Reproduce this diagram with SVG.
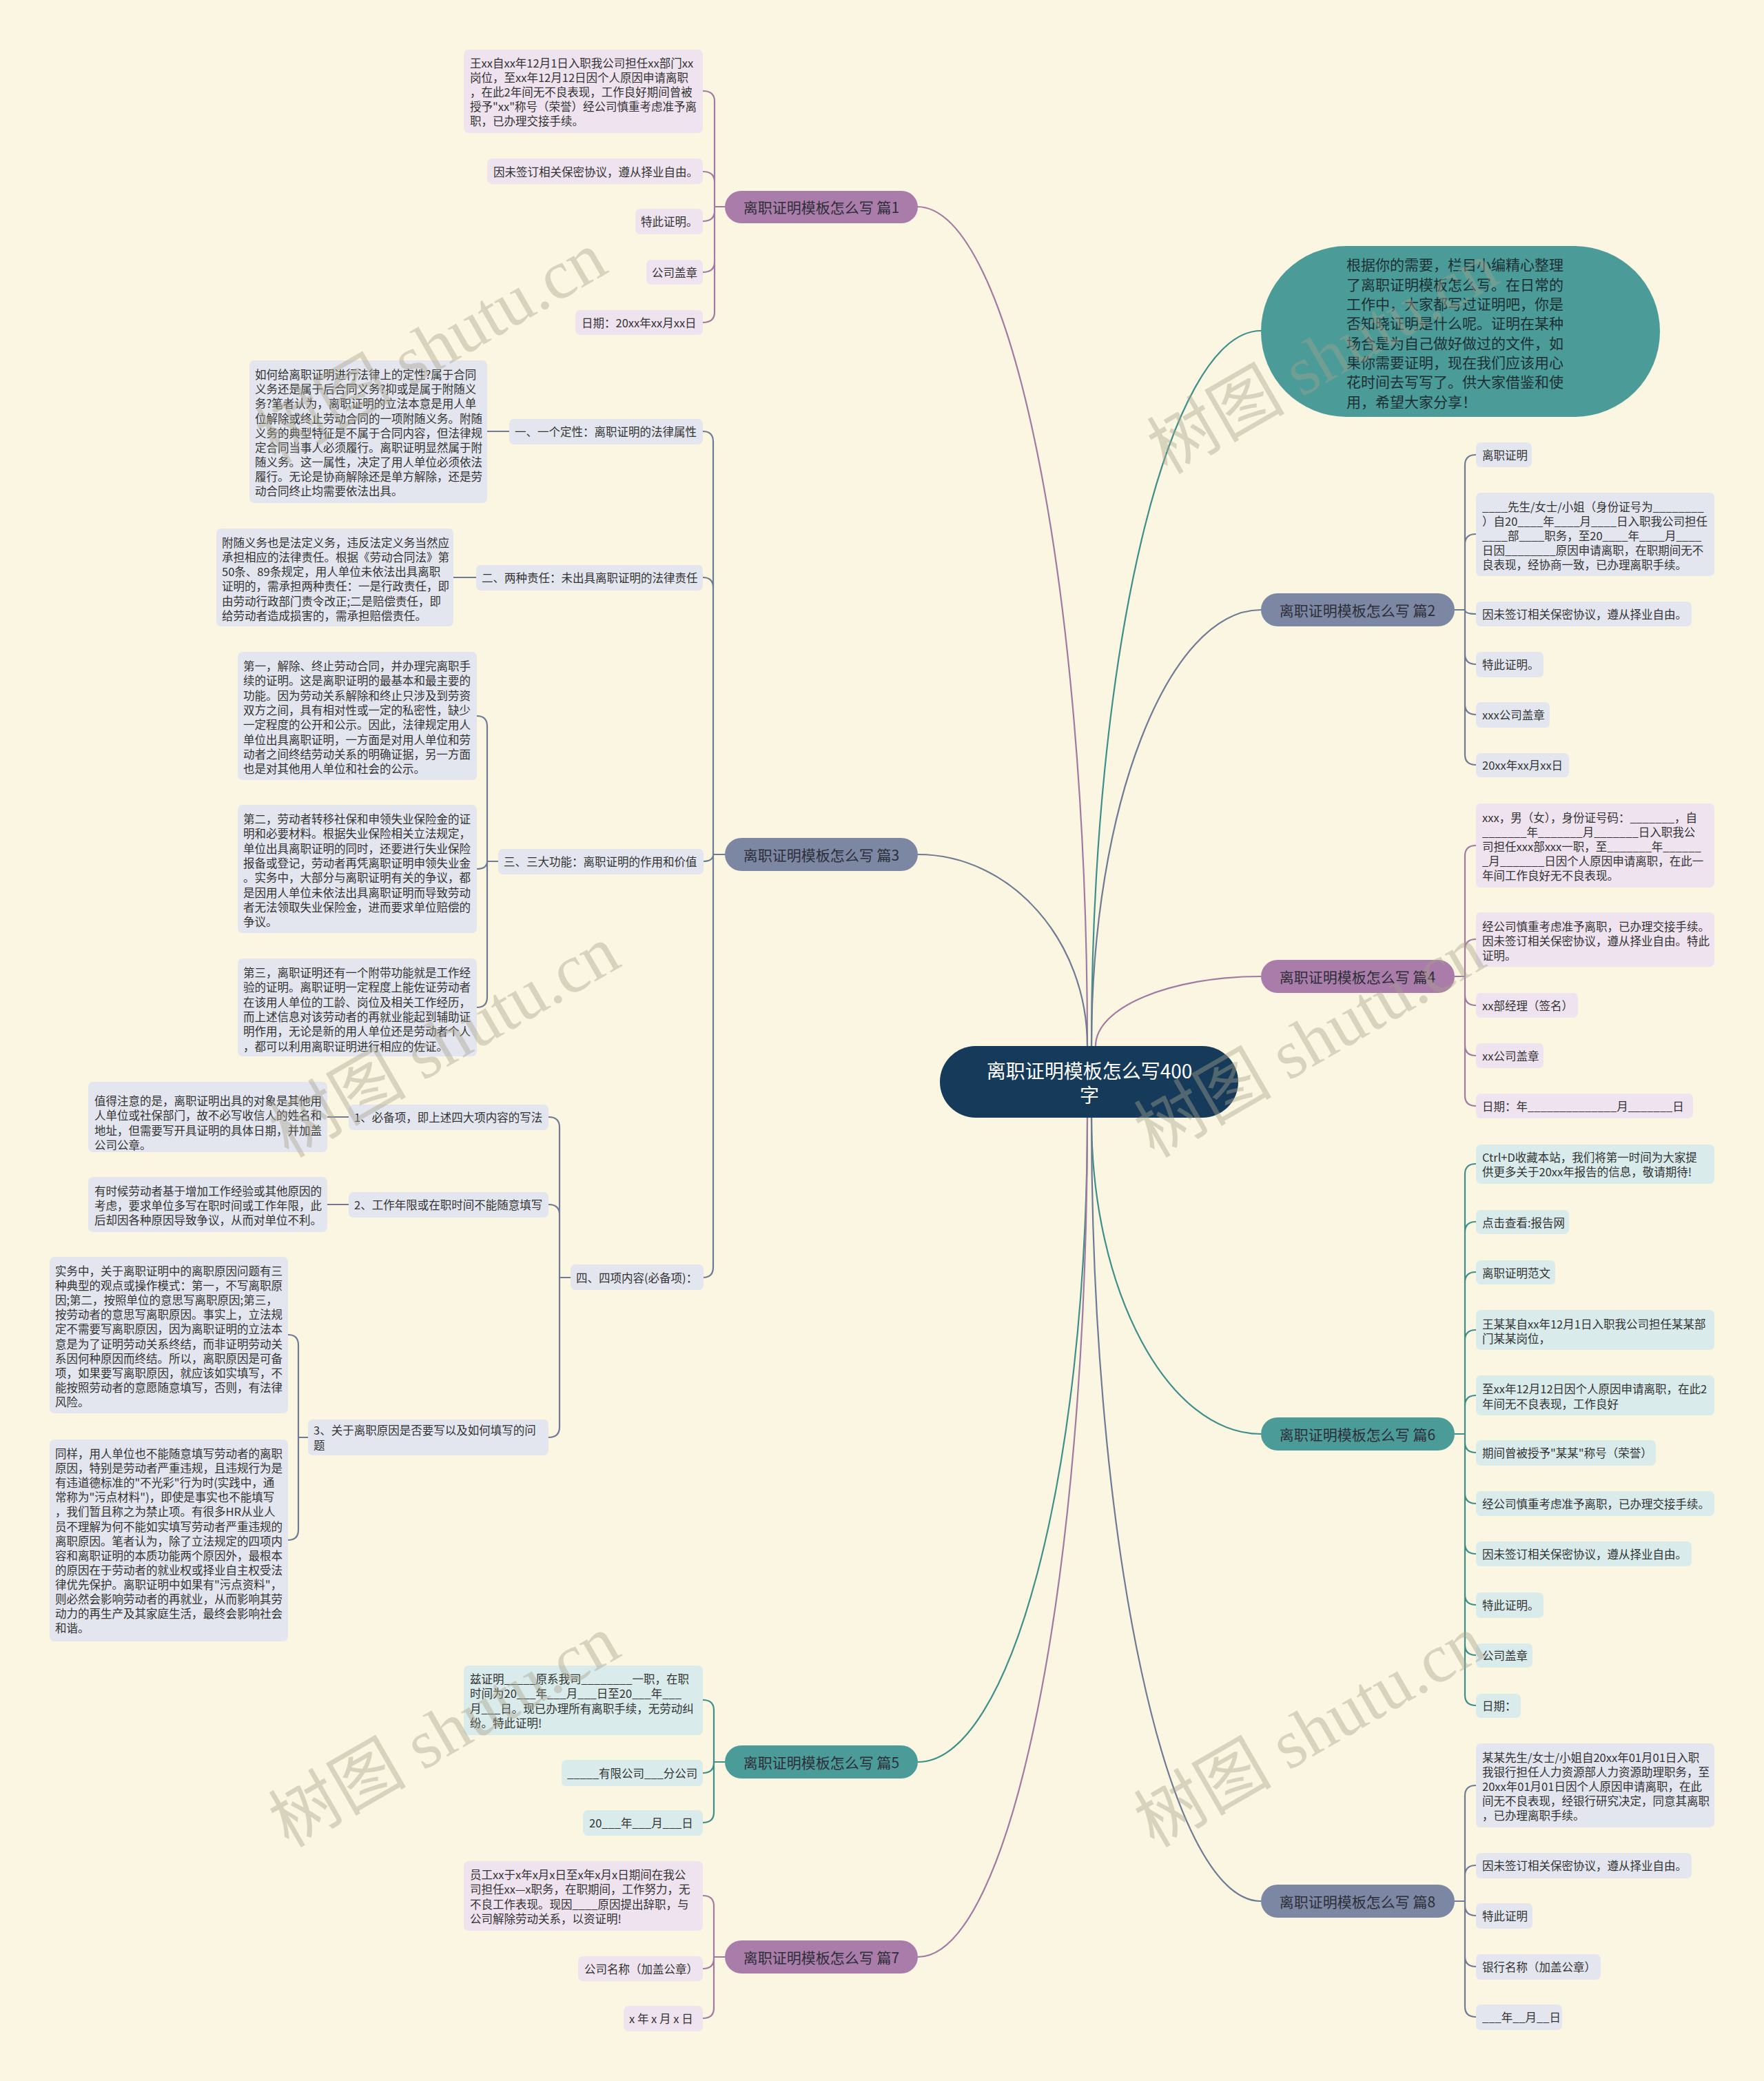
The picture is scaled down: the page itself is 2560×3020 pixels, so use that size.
<svg xmlns="http://www.w3.org/2000/svg" width="2560" height="3020" viewBox="0 0 2560 3020">
<style>
.cp{fill:none;stroke:#a07aa3;stroke-width:2.2}
.cs{fill:none;stroke:#6f7b95;stroke-width:2.2}
.ct{fill:none;stroke:#3e8f8b;stroke-width:2.2}
.lp{fill:#eee3ef}
.ls{fill:#e3e6ee}
.lt{fill:#d9ebea}
.bp{fill:#a97ca9}
.bs{fill:#7b87a3}
.bt{fill:#4b9b98}
.t{font-family:"Noto Sans CJK SC","Noto Sans",sans-serif;font-size:16.5px;fill:#333;dominant-baseline:central}
.b{font-family:"Noto Sans CJK SC","Noto Sans",sans-serif;font-size:21px;fill:#2e2e38;dominant-baseline:central;text-anchor:middle}
.wm{font-family:"Liberation Serif","Noto Sans CJK SC",serif;font-size:100px;fill:#a8a28c;fill-opacity:0.42;text-anchor:middle;dominant-baseline:central}
</style>
<rect x="0" y="0" width="2560" height="3020" fill="#fbf6e1"/>

<g id="connectors">
  <path class="cp" d="M1578 1518C1578 848 1467 300 1331 300"/>
  <path class="cs" d="M1578 1518C1578 1365 1467 1240 1332 1240"/>
  <path class="ct" d="M1578 1622C1578 2136 1467 2557 1332 2557"/>
  <path class="cp" d="M1578 1622C1578 2292 1467 2840 1332 2840"/>
  <path class="ct" d="M1584 1518C1584 947 1695 480 1830 480"/>
  <path class="cs" d="M1584 1518C1584 1170 1695 885 1830 885"/>
  <path class="cp" d="M1590 1518C1590 1462 1698 1417 1830 1417"/>
  <path class="ct" d="M1584 1622C1584 1874 1695 2081 1830 2081"/>
  <path class="cs" d="M1584 1622C1584 2247 1695 2759 1830 2759"/>

  <path class="cp" d="M1052 300H1037M1037 300V147Q1037 132 1020 132M1037 300V264Q1037 249 1020 249M1037 300V306Q1037 321 1020 321M1037 300V380Q1037 395 1020 395M1037 300V453Q1037 468 1020 468"/>

  <path class="cs" d="M1052 1240H1035M1035 1240V641Q1035 626 1020 626M1035 1240V853Q1035 838 1020 838M1035 1240Q1035 1250 1020 1250M1035 1240V1839Q1035 1854 1020 1854"/>
  <path class="cs" d="M707 626H739M658 838H691"/>
  <path class="cs" d="M723 1250H707M707 1250V1054Q707 1039 692 1039M707 1250Q707 1261 692 1261M707 1250V1447Q707 1462 692 1462"/>
  <path class="cs" d="M828 1854H812M812 1854V1636Q812 1621 796 1621M812 1854V1763Q812 1748 796 1748M812 1854V2071Q812 2086 796 2086"/>
  <path class="cs" d="M475 1621H506M475 1748H506"/>
  <path class="cs" d="M447 2086H433M433 2086V1952Q433 1937 418 1937M433 2086V2220Q433 2235 418 2235"/>

  <path class="ct" d="M1052 2557H1036M1036 2557V2482Q1036 2467 1020 2467M1036 2557V2558Q1036 2573 1020 2573M1036 2557V2630Q1036 2645 1020 2645"/>
  <path class="cp" d="M1052 2840H1036M1036 2840V2766Q1036 2751 1020 2751M1036 2840V2842Q1036 2857 1020 2857M1036 2840V2914Q1036 2929 1020 2929"/>

  <path class="cs" d="M2111 885H2126M2126 885V675Q2126 660 2142 660M2126 885V790Q2126 775 2142 775M2126 885Q2126 891 2142 891M2126 885V949Q2126 964 2142 964M2126 885V1022Q2126 1037 2142 1037M2126 885V1095Q2126 1110 2142 1110"/>
  <path class="cp" d="M2111 1417H2126M2126 1417V1242Q2126 1227 2142 1227M2126 1417V1378Q2126 1363 2142 1363M2126 1417V1444Q2126 1459 2142 1459M2126 1417V1517Q2126 1532 2142 1532M2126 1417V1590Q2126 1605 2142 1605"/>
  <path class="ct" d="M2111 2081H2126M2126 2081V1704Q2126 1689 2142 1689M2126 2081V1788Q2126 1773 2142 1773M2126 2081V1861Q2126 1846 2142 1846M2126 2081V1945Q2126 1930 2142 1930M2126 2081V2040Q2126 2025 2142 2025M2126 2081V2093Q2126 2108 2142 2108M2126 2081V2167Q2126 2182 2142 2182M2126 2081V2240Q2126 2255 2142 2255M2126 2081V2314Q2126 2329 2142 2329M2126 2081V2387Q2126 2402 2142 2402M2126 2081V2460Q2126 2475 2142 2475"/>
  <path class="cs" d="M2111 2759H2126M2126 2759V2606Q2126 2591 2142 2591M2126 2759V2722Q2126 2707 2142 2707M2126 2759V2765Q2126 2780 2142 2780M2126 2759V2839Q2126 2854 2142 2854M2126 2759V2912Q2126 2927 2142 2927"/>
</g>

<g id="center">
  <rect x="1364" y="1518" width="433" height="104" rx="52" fill="#163b5a"/>
  <text font-family="Noto Sans CJK SC, sans-serif" font-size="28" fill="#ffffff" text-anchor="middle" dominant-baseline="central"><tspan x="1581" y="1553">离职证明模板怎么写400</tspan><tspan x="1581" y="1588">字</tspan></text>
</g>

<g id="intro">
  <rect x="1830" y="357" width="579" height="248" rx="124" fill="#4b9b98"/>
  <text font-family="Noto Sans CJK SC, sans-serif" font-size="21" fill="#1e2f33" dominant-baseline="central">
    <tspan x="1954" y="383">根据你的需要，栏目小编精心整理</tspan>
    <tspan x="1954" y="412">了离职证明模板怎么写。在日常的</tspan>
    <tspan x="1954" y="440">工作中，大家都写过证明吧，你是</tspan>
    <tspan x="1954" y="468">否知晓证明是什么呢。证明在某种</tspan>
    <tspan x="1954" y="497">场合是为自己做好做过的文件，如</tspan>
    <tspan x="1954" y="525">果你需要证明，现在我们应该用心</tspan>
    <tspan x="1954" y="553">花时间去写写了。供大家借鉴和使</tspan>
    <tspan x="1954" y="582">用，希望大家分享！</tspan>
  </text>
</g>

<g id="b1"><rect class="bp" x="1052" y="277" width="280" height="47" rx="23.5"/><text class="b" x="1192" y="300">离职证明模板怎么写 篇1</text></g>
<g id="b3"><rect class="bs" x="1052" y="1216" width="280" height="48" rx="24"/><text class="b" x="1192" y="1240">离职证明模板怎么写 篇3</text></g>
<g id="b5"><rect class="bt" x="1052" y="2533" width="280" height="48" rx="24"/><text class="b" x="1192" y="2557">离职证明模板怎么写 篇5</text></g>
<g id="b7"><rect class="bp" x="1052" y="2816" width="280" height="48" rx="24"/><text class="b" x="1192" y="2840">离职证明模板怎么写 篇7</text></g>
<g id="b2"><rect class="bs" x="1830" y="861" width="281" height="48" rx="24"/><text class="b" x="1970" y="885">离职证明模板怎么写 篇2</text></g>
<g id="b4"><rect class="bp" x="1830" y="1393" width="281" height="48" rx="24"/><text class="b" x="1970" y="1417">离职证明模板怎么写 篇4</text></g>
<g id="b6"><rect class="bt" x="1830" y="2057" width="281" height="48" rx="24"/><text class="b" x="1970" y="2081">离职证明模板怎么写 篇6</text></g>
<g id="b8"><rect class="bs" x="1830" y="2735" width="281" height="48" rx="24"/><text class="b" x="1970" y="2759">离职证明模板怎么写 篇8</text></g>

<g id="l1a"><rect class="lp" x="673" y="72" width="347" height="121" rx="7"/><text class="t"><tspan x="682" y="91">王xx自xx年12月1日入职我公司担任xx部门xx</tspan><tspan x="682" y="112">岗位，至xx年12月12日因个人原因申请离职</tspan><tspan x="682" y="133">，在此2年间无不良表现，工作良好期间曾被</tspan><tspan x="682" y="154">授予"xx"称号（荣誉）经公司慎重考虑准予离</tspan><tspan x="682" y="175">职，已办理交接手续。</tspan></text></g>
<g id="l1b"><rect class="lp" x="707" y="230" width="313" height="37" rx="7"/><text class="t" x="716" y="249">因未签订相关保密协议，遵从择业自由。</text></g>
<g id="l1c"><rect class="lp" x="922" y="303" width="98" height="37" rx="7"/><text class="t" x="930" y="321">特此证明。</text></g>
<g id="l1d"><rect class="lp" x="938" y="377" width="82" height="36" rx="7"/><text class="t" x="946" y="395">公司盖章</text></g>
<g id="l1e"><rect class="lp" x="835" y="450" width="185" height="36" rx="7"/><text class="t" x="844" y="468">日期：20xx年xx月xx日</text></g>

<g id="s1"><rect class="ls" x="739" y="608" width="281" height="37" rx="7"/><text class="t" x="747" y="626">一、一个定性：离职证明的法律属性</text></g>
<g id="s1l"><rect class="ls" x="362" y="523" width="345" height="207" rx="7"/><text class="t"><tspan x="370" y="543">如何给离职证明进行法律上的定性?属于合同</tspan><tspan x="370" y="564">义务还是属于后合同义务?抑或是属于附随义</tspan><tspan x="370" y="585">务?笔者认为，离职证明的立法本意是用人单</tspan><tspan x="370" y="607">位解除或终止劳动合同的一项附随义务。附随</tspan><tspan x="370" y="628">义务的典型特征是不属于合同内容，但法律规</tspan><tspan x="370" y="649">定合同当事人必须履行。离职证明显然属于附</tspan><tspan x="370" y="670">随义务。这一属性，决定了用人单位必须依法</tspan><tspan x="370" y="691">履行。无论是协商解除还是单方解除，还是劳</tspan><tspan x="370" y="712">动合同终止均需要依法出具。</tspan></text></g>
<g id="s2"><rect class="ls" x="691" y="820" width="329" height="37" rx="7"/><text class="t" x="699" y="838">二、两种责任：未出具离职证明的法律责任</text></g>
<g id="s2l"><rect class="ls" x="314" y="767" width="344" height="142" rx="7"/><text class="t"><tspan x="322" y="787">附随义务也是法定义务，违反法定义务当然应</tspan><tspan x="322" y="808">承担相应的法律责任。根据《劳动合同法》第</tspan><tspan x="322" y="829">50条、89条规定，用人单位未依法出具离职</tspan><tspan x="322" y="850">证明的，需承担两种责任：一是行政责任，即</tspan><tspan x="322" y="872">由劳动行政部门责令改正;二是赔偿责任，即</tspan><tspan x="322" y="893">给劳动者造成损害的，需承担赔偿责任。</tspan></text></g>
<g id="s3"><rect class="ls" x="723" y="1232" width="298" height="37" rx="7"/><text class="t" x="731" y="1250">三、三大功能：离职证明的作用和价值</text></g>
<g id="s3a"><rect class="ls" x="345" y="946" width="347" height="186" rx="7"/><text class="t"><tspan x="353" y="966">第一，解除、终止劳动合同，并办理完离职手</tspan><tspan x="353" y="987">续的证明。这是离职证明的最基本和最主要的</tspan><tspan x="353" y="1009">功能。因为劳动关系解除和终止只涉及到劳资</tspan><tspan x="353" y="1030">双方之间，具有相对性或一定的私密性，缺少</tspan><tspan x="353" y="1051">一定程度的公开和公示。因此，法律规定用人</tspan><tspan x="353" y="1073">单位出具离职证明，一方面是对用人单位和劳</tspan><tspan x="353" y="1094">动者之间终结劳动关系的明确证据，另一方面</tspan><tspan x="353" y="1115">也是对其他用人单位和社会的公示。</tspan></text></g>
<g id="s3b"><rect class="ls" x="345" y="1168" width="347" height="186" rx="7"/><text class="t"><tspan x="353" y="1188">第二，劳动者转移社保和申领失业保险金的证</tspan><tspan x="353" y="1209">明和必要材料。根据失业保险相关立法规定，</tspan><tspan x="353" y="1231">单位出具离职证明的同时，还要进行失业保险</tspan><tspan x="353" y="1252">报备或登记，劳动者再凭离职证明申领失业金</tspan><tspan x="353" y="1273">。实务中，大部分与离职证明有关的争议，都</tspan><tspan x="353" y="1295">是因用人单位未依法出具离职证明而导致劳动</tspan><tspan x="353" y="1316">者无法领取失业保险金，进而要求单位赔偿的</tspan><tspan x="353" y="1337">争议。</tspan></text></g>
<g id="s3c"><rect class="ls" x="345" y="1391" width="347" height="142" rx="7"/><text class="t"><tspan x="353" y="1411">第三，离职证明还有一个附带功能就是工作经</tspan><tspan x="353" y="1432">验的证明。离职证明一定程度上能佐证劳动者</tspan><tspan x="353" y="1454">在该用人单位的工龄、岗位及相关工作经历，</tspan><tspan x="353" y="1475">而上述信息对该劳动者的再就业能起到辅助证</tspan><tspan x="353" y="1496">明作用，无论是新的用人单位还是劳动者个人</tspan><tspan x="353" y="1518">，都可以利用离职证明进行相应的佐证。</tspan></text></g>
<g id="s4"><rect class="ls" x="828" y="1835" width="193" height="37" rx="7"/><text class="t" x="836" y="1854">四、四项内容(必备项)：</text></g>
<g id="s41"><rect class="ls" x="506" y="1603" width="290" height="37" rx="7"/><text class="t" x="514" y="1621">1、必备项，即上述四大项内容的写法</text></g>
<g id="s41l"><rect class="ls" x="128" y="1570" width="347" height="102" rx="7"/><text class="t"><tspan x="137" y="1597">值得注意的是，离职证明出具的对象是其他用</tspan><tspan x="137" y="1618">人单位或社保部门，故不必写收信人的姓名和</tspan><tspan x="137" y="1640">地址，但需要写开具证明的具体日期，并加盖</tspan><tspan x="137" y="1661">公司公章。</tspan></text></g>
<g id="s42"><rect class="ls" x="506" y="1730" width="290" height="37" rx="7"/><text class="t" x="514" y="1748">2、工作年限或在职时间不能随意填写</text></g>
<g id="s42l"><rect class="ls" x="128" y="1708" width="347" height="80" rx="7"/><text class="t"><tspan x="137" y="1728">有时候劳动者基于增加工作经验或其他原因的</tspan><tspan x="137" y="1749">考虑，要求单位多写在职时间或工作年限，此</tspan><tspan x="137" y="1770">后却因各种原因导致争议，从而对单位不利。</tspan></text></g>
<g id="s43"><rect class="ls" x="447" y="2060" width="349" height="52" rx="7"/><text class="t"><tspan x="455" y="2075">3、关于离职原因是否要写以及如何填写的问</tspan><tspan x="455" y="2097">题</tspan></text></g>
<g id="s43a"><rect class="ls" x="72" y="1824" width="346" height="227" rx="7"/><text class="t"><tspan x="80" y="1844">实务中，关于离职证明中的离职原因问题有三</tspan><tspan x="80" y="1865">种典型的观点或操作模式：第一，不写离职原</tspan><tspan x="80" y="1886">因;第二，按照单位的意思写离职原因;第三，</tspan><tspan x="80" y="1907">按劳动者的意思写离职原因。事实上，立法规</tspan><tspan x="80" y="1928">定不需要写离职原因，因为离职证明的立法本</tspan><tspan x="80" y="1950">意是为了证明劳动关系终结，而非证明劳动关</tspan><tspan x="80" y="1971">系因何种原因而终结。所以，离职原因是可备</tspan><tspan x="80" y="1992">项，如果要写离职原因，就应该如实填写，不</tspan><tspan x="80" y="2013">能按照劳动者的意愿随意填写，否则，有法律</tspan><tspan x="80" y="2034">风险。</tspan></text></g>
<g id="s43b"><rect class="ls" x="72" y="2089" width="346" height="293" rx="7"/><text class="t"><tspan x="80" y="2109">同样，用人单位也不能随意填写劳动者的离职</tspan><tspan x="80" y="2130">原因，特别是劳动者严重违规，且违规行为是</tspan><tspan x="80" y="2151">有违道德标准的"不光彩"行为时(实践中，通</tspan><tspan x="80" y="2172">常称为"污点材料")，即使是事实也不能填写</tspan><tspan x="80" y="2193">，我们暂且称之为禁止项。有很多HR从业人</tspan><tspan x="80" y="2215">员不理解为何不能如实填写劳动者严重违规的</tspan><tspan x="80" y="2236">离职原因。笔者认为，除了立法规定的四项内</tspan><tspan x="80" y="2257">容和离职证明的本质功能两个原因外，最根本</tspan><tspan x="80" y="2278">的原因在于劳动者的就业权或择业自主权受法</tspan><tspan x="80" y="2299">律优先保护。离职证明中如果有"污点资料"，</tspan><tspan x="80" y="2320">则必然会影响劳动者的再就业，从而影响其劳</tspan><tspan x="80" y="2341">动力的再生产及其家庭生活，最终会影响社会</tspan><tspan x="80" y="2362">和谐。</tspan></text></g>

<g id="l5a"><rect class="lt" x="673" y="2417" width="347" height="101" rx="7"/><text class="t"><tspan x="682" y="2436">兹证明_____原系我司________一职，在职</tspan><tspan x="682" y="2457">时间为20___年___月___日至20___年___</tspan><tspan x="682" y="2479">月___日。现已办理所有离职手续，无劳动纠</tspan><tspan x="682" y="2500">纷。特此证明!</tspan></text></g>
<g id="l5b"><rect class="lt" x="815" y="2554" width="205" height="38" rx="7"/><text class="t" x="823" y="2573">_____有限公司___分公司</text></g>
<g id="l5c"><rect class="lt" x="846" y="2627" width="174" height="37" rx="7"/><text class="t" x="855" y="2645">20___年___月___日</text></g>

<g id="l7a"><rect class="lp" x="673" y="2701" width="347" height="101" rx="7"/><text class="t"><tspan x="682" y="2720">员工xx于x年x月x日至x年x月x日期间在我公</tspan><tspan x="682" y="2741">司担任xx—x职务，在职期间，工作努力，无</tspan><tspan x="682" y="2763">不良工作表现。现因____原因提出辞职，与</tspan><tspan x="682" y="2784">公司解除劳动关系，以资证明!</tspan></text></g>
<g id="l7b"><rect class="lp" x="839" y="2839" width="181" height="36" rx="7"/><text class="t" x="848" y="2857">公司名称（加盖公章）</text></g>
<g id="l7c"><rect class="lp" x="905" y="2911" width="115" height="37" rx="7"/><text class="t" x="913" y="2929">x 年 x 月 x 日</text></g>

<g id="r2a"><rect class="ls" x="2142" y="642" width="81" height="36" rx="7"/><text class="t" x="2151" y="660">离职证明</text></g>
<g id="r2b"><rect class="ls" x="2142" y="715" width="346" height="121" rx="7"/><text class="t"><tspan x="2151" y="735">____先生/女士/小姐（身份证号为________</tspan><tspan x="2151" y="756">）自20____年____月____日入职我公司担任</tspan><tspan x="2151" y="777">____部____职务，至20____年____月____</tspan><tspan x="2151" y="798">日因________原因申请离职，在职期间无不</tspan><tspan x="2151" y="819">良表现，经协商一致，已办理离职手续。</tspan></text></g>
<g id="r2c"><rect class="ls" x="2142" y="873" width="313" height="36" rx="7"/><text class="t" x="2151" y="891">因未签订相关保密协议，遵从择业自由。</text></g>
<g id="r2d"><rect class="ls" x="2142" y="946" width="98" height="37" rx="7"/><text class="t" x="2151" y="964">特此证明。</text></g>
<g id="r2e"><rect class="ls" x="2142" y="1019" width="107" height="37" rx="7"/><text class="t" x="2151" y="1037">xxx公司盖章</text></g>
<g id="r2f"><rect class="ls" x="2142" y="1093" width="135" height="35" rx="7"/><text class="t" x="2151" y="1110">20xx年xx月xx日</text></g>

<g id="r4a"><rect class="lp" x="2142" y="1166" width="346" height="122" rx="7"/><text class="t"><tspan x="2151" y="1186">xxx，男（女），身份证号码：_______，自</tspan><tspan x="2151" y="1207">_______年_______月_______日入职我公</tspan><tspan x="2151" y="1228">司担任xxx部xxx一职，至_______年______</tspan><tspan x="2151" y="1249">_月_______日因个人原因申请离职，在此一</tspan><tspan x="2151" y="1270">年间工作良好无不良表现。</tspan></text></g>
<g id="r4b"><rect class="lp" x="2142" y="1324" width="346" height="79" rx="7"/><text class="t"><tspan x="2151" y="1344">经公司慎重考虑准予离职，已办理交接手续。</tspan><tspan x="2151" y="1365">因未签订相关保密协议，遵从择业自由。特此</tspan><tspan x="2151" y="1386">证明。</tspan></text></g>
<g id="r4c"><rect class="lp" x="2142" y="1441" width="148" height="36" rx="7"/><text class="t" x="2151" y="1459">xx部经理（签名）</text></g>
<g id="r4d"><rect class="lp" x="2142" y="1514" width="98" height="36" rx="7"/><text class="t" x="2151" y="1532">xx公司盖章</text></g>
<g id="r4e"><rect class="lp" x="2142" y="1587" width="315" height="36" rx="7"/><text class="t" x="2151" y="1605">日期：年______________月_______日</text></g>

<g id="r6a"><rect class="lt" x="2142" y="1661" width="346" height="57" rx="7"/><text class="t"><tspan x="2151" y="1679">Ctrl+D收藏本站，我们将第一时间为大家提</tspan><tspan x="2151" y="1700">供更多关于20xx年报告的信息，敬请期待!</tspan></text></g>
<g id="r6b"><rect class="lt" x="2142" y="1756" width="135" height="35" rx="7"/><text class="t" x="2151" y="1774">点击查看:报告网</text></g>
<g id="r6c"><rect class="lt" x="2142" y="1829" width="115" height="35" rx="7"/><text class="t" x="2151" y="1847">离职证明范文</text></g>
<g id="r6d"><rect class="lt" x="2142" y="1901" width="346" height="58" rx="7"/><text class="t"><tspan x="2151" y="1921">王某某自xx年12月1日入职我公司担任某某部</tspan><tspan x="2151" y="1942">门某某岗位，</tspan></text></g>
<g id="r6e"><rect class="lt" x="2142" y="1996" width="346" height="58" rx="7"/><text class="t"><tspan x="2151" y="2015">至xx年12月12日因个人原因申请离职，在此2</tspan><tspan x="2151" y="2037">年间无不良表现，工作良好</tspan></text></g>
<g id="r6f"><rect class="lt" x="2142" y="2090" width="261" height="37" rx="7"/><text class="t" x="2151" y="2108">期间曾被授予"某某"称号（荣誉）</text></g>
<g id="r6g"><rect class="lt" x="2142" y="2164" width="346" height="36" rx="7"/><text class="t" x="2151" y="2182">经公司慎重考虑准予离职，已办理交接手续。</text></g>
<g id="r6h"><rect class="lt" x="2142" y="2237" width="313" height="36" rx="7"/><text class="t" x="2151" y="2255">因未签订相关保密协议，遵从择业自由。</text></g>
<g id="r6i"><rect class="lt" x="2142" y="2311" width="98" height="37" rx="7"/><text class="t" x="2151" y="2329">特此证明。</text></g>
<g id="r6j"><rect class="lt" x="2142" y="2385" width="82" height="35" rx="7"/><text class="t" x="2151" y="2402">公司盖章</text></g>
<g id="r6k"><rect class="lt" x="2142" y="2458" width="65" height="35" rx="7"/><text class="t" x="2151" y="2475">日期：</text></g>

<g id="r8a"><rect class="ls" x="2142" y="2530" width="346" height="122" rx="7"/><text class="t"><tspan x="2151" y="2550">某某先生/女士/小姐自20xx年01月01日入职</tspan><tspan x="2151" y="2571">我银行担任人力资源部人力资源助理职务，至</tspan><tspan x="2151" y="2592">20xx年01月01日因个人原因申请离职，在此</tspan><tspan x="2151" y="2613">间无不良表现，经银行研究决定，同意其离职</tspan><tspan x="2151" y="2634">，已办理离职手续。</tspan></text></g>
<g id="r8b"><rect class="ls" x="2142" y="2689" width="313" height="37" rx="7"/><text class="t" x="2151" y="2707">因未签订相关保密协议，遵从择业自由。</text></g>
<g id="r8c"><rect class="ls" x="2142" y="2762" width="82" height="37" rx="7"/><text class="t" x="2151" y="2780">特此证明</text></g>
<g id="r8d"><rect class="ls" x="2142" y="2836" width="181" height="37" rx="7"/><text class="t" x="2151" y="2854">银行名称（加盖公章）</text></g>
<g id="r8e"><rect class="ls" x="2142" y="2909" width="125" height="37" rx="7"/><text class="t" x="2151" y="2927">___年__月__日</text></g>

<g id="watermarks">
  <text class="wm" transform="translate(626 505) rotate(-30)">树图 shutu.cn</text>
  <text class="wm" transform="translate(645 1512) rotate(-30)">树图 shutu.cn</text>
  <text class="wm" transform="translate(645 2513) rotate(-30)">树图 shutu.cn</text>
  <text class="wm" transform="translate(1920 520) rotate(-30)">树图 shutu.cn</text>
  <text class="wm" transform="translate(1901 1512) rotate(-30)">树图 shutu.cn</text>
  <text class="wm" transform="translate(1901 2513) rotate(-30)">树图 shutu.cn</text>
</g>
</svg>
